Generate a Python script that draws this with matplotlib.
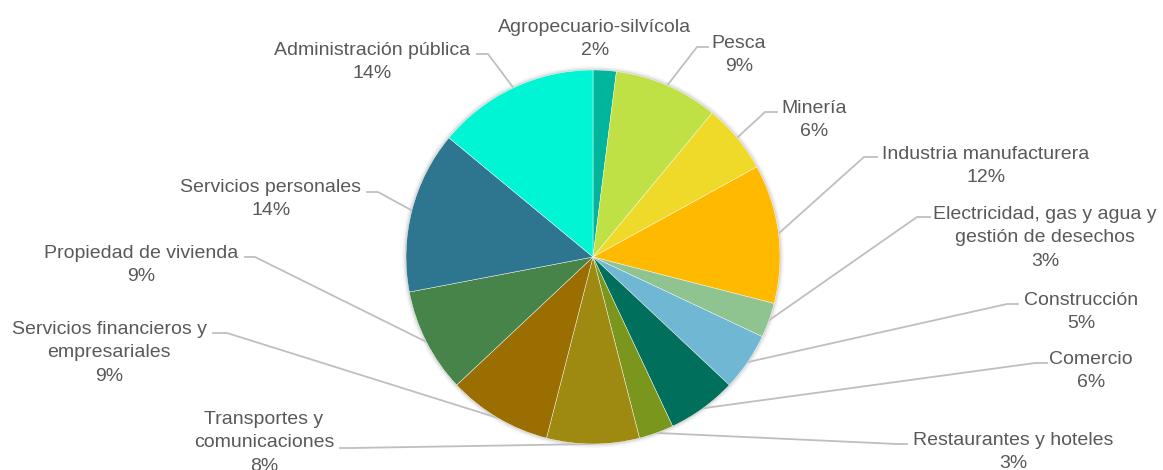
import matplotlib.pyplot as plt
from matplotlib.patches import Circle
import numpy as np

# sectors clockwise from the top
sectors = ["Agropecuario-silvícola", "Pesca", "Minería", "Industria manufacturera",
           "Electricidad, gas y agua y\ngestión de desechos", "Construcción", "Comercio",
           "Restaurantes y hoteles", "Transportes y\ncomunicaciones",
           "Servicios financieros y\nempresariales", "Propiedad de vivienda",
           "Servicios personales", "Administración pública"]
shares = [2, 9, 6, 12, 3, 5, 6, 3, 8, 9, 9, 14, 14]
colors = ["#00B59C", "#C0E146", "#EFDA2A", "#FFBA00", "#8FC490", "#70B7D3", "#006F5C",
          "#7A961C", "#9E8A10", "#9A6E00", "#47844A", "#2E758F", "#00F5D4"]

# label layout in pixels: text centre x, first line y, leader y, elbow x, leader end x
label_x = [595, 739, 814, 986, 1045, 1081, 1091, 1013, 264, 109, 141, 271, 372]
label_y = [26, 42, 107, 153, 213, 299, 358, 439, 418, 328, 252, 186, 49]
lead_y = [None, 47, 112, 157, 217, 304, 363, 444, 448, 333, 257, 192, 54]
elbow_x = [None, 697, 765, 864, 917, 1007, 1035, 897, 352, 227, 255, 378, 488]
line_end = [None, 708, 777, 877, 930, 1018, 1047, 907, 340, 213, 245, 367, 477]

W, H = 1163, 470
cx, cy, r = 593, 257, 187

fig = plt.figure(figsize=(W / 100, H / 100), dpi=100)
ax = fig.add_axes([0, 0, 1, 1])

# soft shadow around the pie
for dr, a in [(4, 0.03), (2.5, 0.05), (1.2, 0.08)]:
    ax.add_patch(Circle((cx, H - cy), r + dr, color="black", alpha=a, lw=0, zorder=0))

ax.pie(shares, colors=colors, startangle=90, counterclock=False,
       center=(cx, H - cy), radius=r,
       wedgeprops=dict(edgecolor="white", linewidth=0.3, zorder=2))
ax.set_xlim(0, W)
ax.set_ylim(0, H)
ax.set_aspect("equal")
ax.axis("off")

total = sum(shares)
cum = np.cumsum([0] + shares[:-1])
txt_color = "#595959"
for i, name in enumerate(sectors):
    pct = round(shares[i] / total * 100)
    lines = name.split("\n") + [str(pct) + "%"]
    for k, line in enumerate(lines):
        ax.text(label_x[i], H - (label_y[i] + 23.3 * k + 6), line,
                ha="center", va="baseline", fontsize=14, color=txt_color,
                family="Liberation Sans")
    if line_end[i] is None:
        continue
    mid = (cum[i] + shares[i] / 2) / total * 2 * np.pi
    px = cx + r * np.sin(mid)
    py = cy - r * np.cos(mid)
    ax.plot([px, elbow_x[i], line_end[i]], [H - py, H - lead_y[i], H - lead_y[i]],
            color="#BFBFBF", lw=1.3, zorder=1)

fig.savefig("out.png", dpi=100)
